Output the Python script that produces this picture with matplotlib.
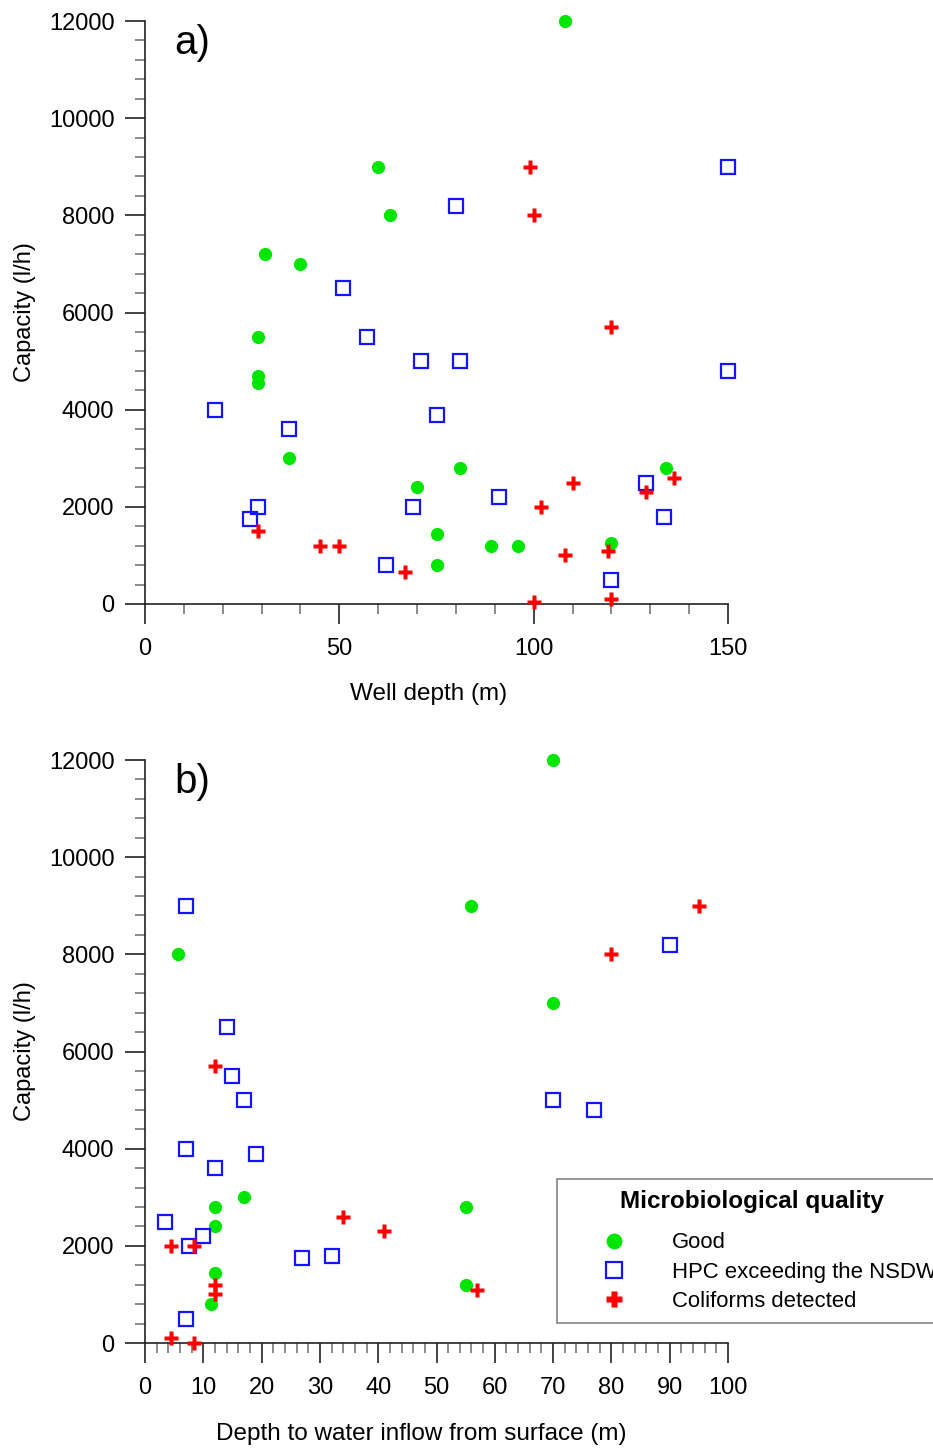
import matplotlib
matplotlib.use("Agg")
import matplotlib.pyplot as plt
from matplotlib.ticker import MultipleLocator

plt.rcParams['font.family'] = ['Liberation Sans', 'DejaVu Sans']

# ---- Panel a) : well depth vs capacity ----
a_good_depth = [108, 60, 63, 31, 40, 29, 29, 29, 37, 81, 70, 75, 75, 89, 96, 120, 134]
a_good_cap = [12000, 9000, 8000, 7200, 7000, 5500, 4700, 4550, 3000, 2800, 2400, 1450, 800, 1200, 1200, 1250, 2800]

a_hpc_depth = [150, 80, 51, 57, 71, 81, 150, 18, 37, 75, 29, 27, 69, 91, 129, 133.5, 62, 120]
a_hpc_cap = [9000, 8200, 6500, 5500, 5000, 5000, 4800, 4000, 3600, 3900, 2000, 1750, 2000, 2200, 2500, 1800, 800, 500]

a_coli_depth = [99, 100, 120, 110, 102, 129, 136, 29, 45, 50, 67, 108, 119, 100, 120]
a_coli_cap = [9000, 8000, 5700, 2500, 2000, 2300, 2600, 1500, 1200, 1200, 650, 1000, 1100, 50, 100]

# ---- Panel b) : depth to water inflow vs capacity ----
b_good_depth = [70, 56, 5.7, 70, 17, 12, 12, 55, 55, 12, 11.3]
b_good_cap = [12000, 9000, 8000, 7000, 3000, 2800, 2400, 2800, 1200, 1450, 800]

b_hpc_depth = [7, 90, 14, 15, 17, 70, 77, 7, 19, 12, 3.5, 10, 7.5, 27, 32, 7]
b_hpc_cap = [9000, 8200, 6500, 5500, 5000, 5000, 4800, 4000, 3900, 3600, 2500, 2200, 2000, 1750, 1800, 500]

b_coli_depth = [95, 80, 12, 34, 41, 4.5, 8.4, 12, 12, 57, 4.5, 8.4]
b_coli_cap = [9000, 8000, 5700, 2600, 2300, 2000, 2000, 1200, 1000, 1100, 100, 0]

labels = ["Good", "HPC exceeding the NSDW", "Coliforms detected"]

W, H = 933, 1448
fig = plt.figure(figsize=(W / 100, H / 100), dpi=100)

GREEN = '#00e600'
BLUE = '#1414ff'
RED = '#ff0000'
FS = 17


def ax_rect(l, r, t, b):
    return [l / W, 1 - b / H, (r - l) / W, (b - t) / H]


def style_axis(ax, xmax, xmajor, xminor, xlabel, panel, xlab_x):
    ax.set_xlim(0, xmax)
    ax.set_ylim(0, 12000)
    for s in ['top', 'right']:
        ax.spines[s].set_visible(False)
    for s in ['left', 'bottom']:
        ax.spines[s].set_color('#222222')
        ax.spines[s].set_linewidth(1.2)
    ax.xaxis.set_major_locator(MultipleLocator(xmajor))
    ax.xaxis.set_minor_locator(MultipleLocator(xminor))
    ax.yaxis.set_major_locator(MultipleLocator(2000))
    ax.yaxis.set_minor_locator(MultipleLocator(400))
    ax.tick_params(which='major', direction='out', length=14.5, width=1.2,
                   color='#222222', labelsize=FS, pad=7.5)
    ax.tick_params(which='minor', direction='out', length=7.2, width=1.2,
                   color='#777777')
    ax.tick_params(axis='x', which='major', pad=10)
    ax.set_xlabel(xlabel, fontsize=17.5, labelpad=19)
    ax.xaxis.label.set_horizontalalignment('center')
    ax.xaxis.set_label_coords(xlab_x, -0.13 * 0 - 0.0, transform=None) if False else None
    ax.set_ylabel("Capacity (l/h)", fontsize=FS, labelpad=9)
    ax.text(0.05, 0.995, panel, transform=ax.transAxes, fontsize=29,
            va='top', ha='left')


def draw(ax, gd, gc, hd, hc, cd, cc):
    h1, = ax.plot(gd, gc, linestyle='none', marker='o', markersize=9.5,
                  markerfacecolor=GREEN, markeredgecolor='none',
                  clip_on=False, zorder=3)
    h2, = ax.plot(hd, hc, linestyle='none', marker='s', markersize=10,
                  markerfacecolor='none', markeredgecolor=BLUE,
                  markeredgewidth=1.6, clip_on=False, zorder=3)
    h3, = ax.plot(cd, cc, linestyle='none', marker='P', markersize=10,
                  markerfacecolor=RED, markeredgecolor='none',
                  clip_on=False, zorder=4)
    return h1, h2, h3


ax1 = fig.add_axes(ax_rect(145, 728, 21, 604))
draw(ax1, a_good_depth, a_good_cap, a_hpc_depth, a_hpc_cap,
     a_coli_depth, a_coli_cap)
style_axis(ax1, 150, 50, 10, "Well depth (m)", "a)", 0.487)
ax1.xaxis.set_label_coords(0.487, -(694 - 604) / 583)
ax1.xaxis.label.set_verticalalignment('center')

ax2 = fig.add_axes(ax_rect(145, 728, 760, 1343))
handles = draw(ax2, b_good_depth, b_good_cap, b_hpc_depth, b_hpc_cap,
               b_coli_depth, b_coli_cap)
style_axis(ax2, 100, 10, 2, "Depth to water inflow from surface (m)", "b)", 0.473)
ax2.xaxis.set_label_coords(0.473, -(1434 - 1343) / 583)
ax2.xaxis.label.set_verticalalignment('center')

leg = fig.legend(handles, labels, loc='upper left',
                 bbox_to_anchor=(557 / W, 1 - 1179 / H),
                 title="Microbiological quality",
                 title_fontproperties={'weight': 'bold', 'size': 17.5},
                 fontsize=15.9, frameon=True, fancybox=False,
                 edgecolor='#666666', borderpad=0.5, labelspacing=0.37,
                 handletextpad=0.5, handlelength=4.2, borderaxespad=0,
                 markerscale=1.2)
leg.get_frame().set_linewidth(1.2)
leg._legend_box.sep = 14
for h in leg.legend_handles:
    h.set_clip_on(False)

fig.savefig("out.png", dpi=100)
